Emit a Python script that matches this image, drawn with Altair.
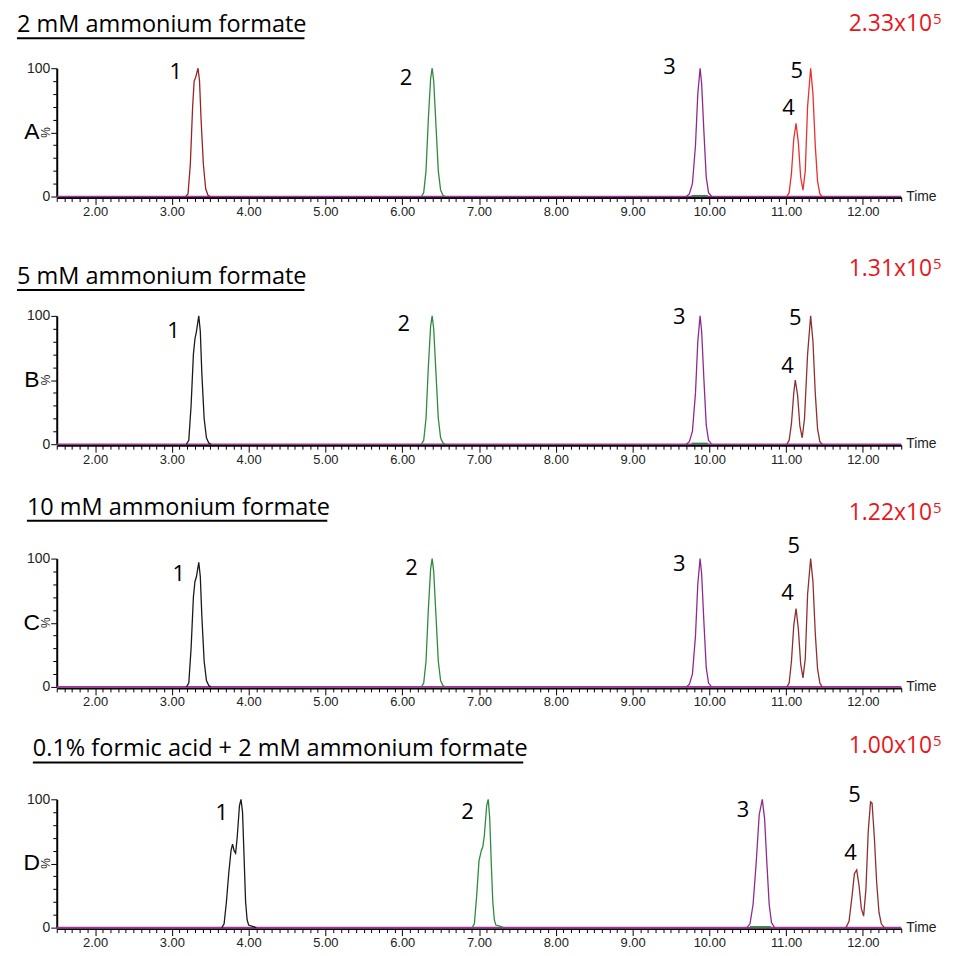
import altair as alt
import pandas as pd

# ---------------- data ----------------
panel_ids = ["A", "B", "C", "D"]
panel_titles = [
    "2 mM ammonium formate",
    "5 mM ammonium formate",
    "10 mM ammonium formate",
    "0.1% formic acid + 2 mM ammonium formate",
]
scale_mantissa = ["2.33x10", "1.31x10", "1.22x10", "1.00x10"]
scale_exponent = ["5", "5", "5", "5"]

# Panel A traces (time in min, intensity in %)
a1_t = [3.18, 3.21, 3.24, 3.27, 3.29, 3.31, 3.34, 3.36, 3.38, 3.41, 3.44, 3.47, 3.50]
a1_v = [0, 2, 25, 70, 90, 93, 100, 90, 60, 25, 6, 1, 0]
a2_t = [6.25, 6.28, 6.31, 6.34, 6.37, 6.39, 6.41, 6.44, 6.47, 6.50, 6.53, 6.56]
a2_v = [0, 3, 20, 60, 92, 100, 90, 55, 20, 5, 1, 0]
a3_t = [9.70, 9.74, 9.78, 9.82, 9.85, 9.88, 9.90, 9.93, 9.96, 9.99, 10.03]
a3_v = [0, 2, 10, 40, 80, 100, 88, 50, 15, 3, 0]
a45_t = [11.01, 11.04, 11.07, 11.10, 11.13, 11.16, 11.19, 11.22, 11.25, 11.28, 11.32, 11.35, 11.38, 11.41, 11.44, 11.47]
a45_v = [0, 3, 18, 45, 57, 42, 15, 5, 20, 70, 100, 80, 40, 12, 2, 0]

# Panel B traces
b1_t = [3.19, 3.22, 3.25, 3.28, 3.30, 3.32, 3.35, 3.37, 3.39, 3.42, 3.45, 3.48, 3.51]
b1_v = [0, 3, 30, 70, 82, 88, 100, 88, 55, 20, 5, 1, 0]
b2_t = [6.25, 6.28, 6.31, 6.34, 6.37, 6.39, 6.41, 6.44, 6.47, 6.50, 6.53, 6.56]
b2_v = [0, 3, 20, 60, 92, 100, 90, 55, 20, 5, 1, 0]
b3_t = [9.70, 9.74, 9.78, 9.82, 9.85, 9.88, 9.90, 9.93, 9.96, 9.99, 10.03]
b3_v = [0, 2, 10, 40, 80, 100, 88, 50, 15, 3, 0]
b45_t = [11.01, 11.04, 11.07, 11.10, 11.12, 11.15, 11.18, 11.21, 11.24, 11.28, 11.32, 11.35, 11.38, 11.41, 11.44, 11.47]
b45_v = [0, 3, 16, 40, 50, 38, 14, 5, 20, 70, 100, 80, 40, 12, 2, 0]

# Panel C traces
c1_t = [3.19, 3.22, 3.25, 3.28, 3.30, 3.32, 3.35, 3.37, 3.39, 3.42, 3.45, 3.48, 3.51]
c1_v = [0, 3, 30, 70, 82, 86, 97, 86, 55, 20, 5, 1, 0]
c2_t = [6.25, 6.28, 6.31, 6.34, 6.37, 6.39, 6.41, 6.44, 6.47, 6.50, 6.53, 6.56]
c2_v = [0, 3, 20, 60, 92, 100, 90, 55, 20, 5, 1, 0]
c3_t = [9.70, 9.74, 9.78, 9.82, 9.85, 9.88, 9.90, 9.93, 9.96, 9.99, 10.03]
c3_v = [0, 2, 10, 40, 80, 100, 88, 50, 15, 3, 0]
c45_t = [11.01, 11.04, 11.07, 11.10, 11.13, 11.16, 11.19, 11.22, 11.25, 11.28, 11.32, 11.35, 11.38, 11.41, 11.44, 11.47]
c45_v = [0, 3, 20, 48, 61, 45, 18, 7, 22, 72, 100, 82, 42, 14, 3, 0]

# Panel D traces
d1_t = [3.65, 3.68, 3.71, 3.74, 3.77, 3.79, 3.81, 3.83, 3.85, 3.88, 3.90, 3.92, 3.94, 3.96, 3.98, 4.00, 4.05, 4.10]
d1_v = [0, 3, 20, 42, 60, 65, 60, 58, 70, 95, 100, 90, 55, 20, 6, 2, 1, 0]
d2_t = [6.91, 6.94, 6.97, 7.00, 7.03, 7.05, 7.07, 7.10, 7.12, 7.14, 7.16, 7.18, 7.20, 7.22, 7.28, 7.32]
d2_v = [0, 3, 25, 52, 60, 63, 72, 95, 100, 85, 50, 20, 6, 2, 1, 0]
d3_t = [10.49, 10.53, 10.57, 10.61, 10.65, 10.69, 10.72, 10.75, 10.78, 10.81, 10.85]
d3_v = [0, 3, 18, 50, 88, 100, 85, 50, 18, 4, 0]
d45_t = [11.78, 11.82, 11.86, 11.89, 11.92, 11.95, 11.98, 12.01, 12.04, 12.07, 12.10, 12.12, 12.15, 12.18, 12.21, 12.24, 12.28]
d45_v = [0, 5, 25, 42, 45, 33, 15, 9, 30, 75, 98, 97, 70, 35, 12, 3, 0]

# short green baseline pieces seen under peak 3 (panels A, B, D)
a_g_t = [9.77, 9.98]
b_g_t = [9.77, 9.98]
d_g_t = [10.53, 10.80]
g_v = [0.6, 0.6]

# Peak number labels (time, %)
peak_names = ["1", "2", "3", "4", "5"]
a_lab_t = [3.05, 6.05, 9.48, 11.03, 11.14]
a_lab_v = [97, 92, 101, 69, 98]
b_lab_t = [3.02, 6.02, 9.61, 11.02, 11.12]
b_lab_v = [88, 94, 99, 61, 98]
c_lab_t = [3.09, 6.12, 9.61, 11.02, 11.10]
c_lab_v = [88, 93, 96, 73, 110]
d_lab_t = [3.65, 6.85, 10.44, 11.84, 11.89]
d_lab_v = [89, 90, 92, 58, 103]

x_tick_values = [round(1.5 + 0.1 * i, 1) for i in range(111)]
y_tick_values = [0, 10, 20, 30, 40, 50, 60, 70, 80, 90, 100]

# ---------------- styles ----------------
W, H = 849, 129
GREEN = "#2E8B3E"
PURPLE = "#8E2A8E"
BLACK = "#1A1A1A"
MAROON = "#8E2F2F"
RED = "#E8302F"
BASE = "#A2329C"
LABEL_RED = "#E8161B"
TFONT = "Open Sans"
AFONT = "Liberation Sans"

panel_traces = [
    [(a1_t, a1_v, "#9A2222"), (a2_t, a2_v, GREEN), (a45_t, a45_v, RED), (a3_t, a3_v, PURPLE)],
    [(b1_t, b1_v, BLACK), (b2_t, b2_v, GREEN), (b45_t, b45_v, MAROON), (b3_t, b3_v, PURPLE)],
    [(c1_t, c1_v, BLACK), (c2_t, c2_v, GREEN), (c45_t, c45_v, MAROON), (c3_t, c3_v, PURPLE)],
    [(d1_t, d1_v, BLACK), (d2_t, d2_v, GREEN), (d45_t, d45_v, MAROON), (d3_t, d3_v, PURPLE)],
]
panel_green_base = [a_g_t, b_g_t, None, d_g_t]
panel_labels = [(a_lab_t, a_lab_v), (b_lab_t, b_lab_v), (c_lab_t, c_lab_v), (d_lab_t, d_lab_v)]

# layout offsets per panel (relative to plot area)
title_x = [-40, -40, -30, -24]
title_y = [-36, -32, -44, -44]
uline_y = [-30, -26, -38, -37]
uline_x2 = [249, 249, 272, 469]
red_y = [-37, -40, -39, -47]

is_major = "abs(datum.value - round(datum.value)) < 0.001"
x_enc = alt.X(
    "t:Q",
    scale=alt.Scale(domain=[1.5, 12.5], nice=False, zero=False),
    axis=alt.Axis(
        values=x_tick_values, title=None, grid=False,
        labelExpr=f"{is_major} ? format(datum.value, '.2f') : ''",
        labelOverlap=False, labelFlush=False,
        domainColor="black", domainWidth=2, tickColor="black", tickWidth=1,
        tickSize={"condition": {"test": is_major, "value": 7}, "value": 4},
        labelFont=AFONT, labelFontSize=13, labelColor="#222222", labelPadding=1, offset=1,
    ),
)
y_enc = alt.Y(
    "v:Q",
    scale=alt.Scale(domain=[0, 100], nice=False),
    axis=alt.Axis(
        values=y_tick_values, title=None, grid=False,
        labelExpr="datum.value > 99 ? '100' : (datum.value < 1 ? '0' : '')",
        labelOverlap=False, labelFlush=False, labelBound=False,
        domainColor="black", domainWidth=2, tickColor="black", tickWidth=1,
        tickSize={"condition": {"test": "datum.value % 50 == 0", "value": 6}, "value": 4},
        labelFont=AFONT, labelFontSize=14, labelColor="#222222", labelPadding=1,
    ),
)

one = pd.DataFrame({"d": [0]})
panels = []
for i in range(4):
    layers = []
    # baseline trace
    layers.append(
        alt.Chart(pd.DataFrame({"v": [0]})).mark_rule(color=BASE, strokeWidth=1.6).encode(y=y_enc)
    )
    for (tt, vv, col) in panel_traces[i]:
        df = pd.DataFrame({"t": tt, "v": vv})
        layers.append(
            alt.Chart(df).mark_line(color=col, strokeWidth=1.3).encode(x=x_enc, y=y_enc)
        )
    if panel_green_base[i] is not None:
        gdf = pd.DataFrame({"t": panel_green_base[i], "v": g_v})
        layers.append(
            alt.Chart(gdf).mark_line(color=GREEN, strokeWidth=1.6).encode(x=x_enc, y=y_enc)
        )
    lt, lv = panel_labels[i]
    ldf = pd.DataFrame({"t": lt, "v": lv, "name": peak_names})
    layers.append(
        alt.Chart(ldf).mark_text(font=TFONT, fontSize=22, color="black", baseline="middle", align="center")
        .encode(x=x_enc, y=y_enc, text="name:N")
    )
    # panel title + underline
    tdf = pd.DataFrame({"label": [panel_titles[i]]})
    layers.append(
        alt.Chart(tdf).mark_text(font=TFONT, fontSize=23.6, color="black", align="left", baseline="alphabetic")
        .encode(x=alt.value(title_x[i]), y=alt.value(title_y[i]), text="label:N")
    )
    layers.append(
        alt.Chart(one).mark_rule(color="black", strokeWidth=2)
        .encode(x=alt.value(title_x[i]), x2=alt.value(uline_x2[i]), y=alt.value(uline_y[i]))
    )
    # red intensity scale
    rdf = pd.DataFrame({"m": [scale_mantissa[i]], "e": [scale_exponent[i]]})
    layers.append(
        alt.Chart(rdf).mark_text(font=TFONT, fontSize=23, color=LABEL_RED, align="right", baseline="alphabetic")
        .encode(x=alt.value(880), y=alt.value(red_y[i]), text="m:N")
    )
    layers.append(
        alt.Chart(rdf).mark_text(font=TFONT, fontSize=15, color=LABEL_RED, align="left", baseline="alphabetic")
        .encode(x=alt.value(881), y=alt.value(red_y[i] - 7), text="e:N")
    )
    # panel letter, % sign, Time
    pdf = pd.DataFrame({"p": [panel_ids[i]], "v": [50]})
    layers.append(
        alt.Chart(pdf).mark_text(font=AFONT, fontSize=23, color="black", align="center", baseline="middle")
        .encode(x=alt.value(-25), y=y_enc, text="p:N")
    )
    layers.append(
        alt.Chart(pd.DataFrame({"v": [50]})).mark_text(font=AFONT, fontSize=12, color="#222222", align="center", baseline="middle", angle=270, text="%")
        .encode(x=alt.value(-11), y=y_enc)
    )
    layers.append(
        alt.Chart(pd.DataFrame({"v": [0]})).mark_text(font=AFONT, fontSize=14, color="#222222", align="left", baseline="middle", text="Time")
        .encode(x=alt.value(W + 5), y=y_enc)
    )
    panels.append(alt.layer(*layers).properties(width=W, height=H))

cd = alt.vconcat(panels[2], panels[3], spacing=113, bounds="flush")
bcd = alt.vconcat(panels[1], cd, spacing=115, bounds="flush")
chart = (
    alt.vconcat(panels[0], bcd, spacing=120, bounds="flush")
    .properties(padding={"left": 8, "top": 2, "right": 5, "bottom": 5}, background="white")
    .configure_view(stroke=None)
)

chart.save("out.html", embed_options={"renderer": "svg", "actions": False})
